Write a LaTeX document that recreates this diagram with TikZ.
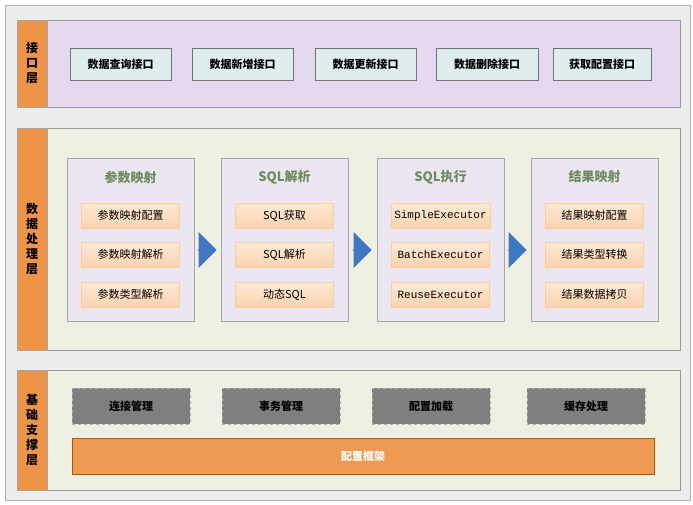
\documentclass[tikz,border=0pt]{standalone}
\usepackage{fontspec}
\setmainfont{Noto Sans CJK SC}
\newfontfamily\monof{Liberation Mono}
\usetikzlibrary{shapes.arrows}
\definecolor{bg}{HTML}{EDEDED}
\definecolor{lblor}{HTML}{EE9448}
\definecolor{purp}{HTML}{E4D9EE}
\definecolor{pale}{HTML}{EEF0E4}
\definecolor{grp}{HTML}{ECE6F3}
\definecolor{ifc}{HTML}{DFEDED}
\definecolor{itm}{HTML}{FBD3AE}
\definecolor{ttl}{HTML}{6E8C5E}
\definecolor{gbox}{HTML}{7F7F7F}
\definecolor{bar}{HTML}{EE9A52}
\definecolor{arr}{HTML}{3F78C0}
\tikzset{
 lbl/.style={fill=lblor,draw=gray!70},
 panel/.style={draw=gray!80,line width=0.8pt},
 ifbox/.style={fill=ifc,draw=gray!90!black,line width=0.8pt,font=\fontsize{11}{13}\selectfont\bfseries},
 grpbox/.style={fill=grp,draw=gray!70,line width=0.8pt},
 itbox/.style={draw=orange!40,top color=itm!50,bottom color=itm,font=\fontsize{11}{13}\selectfont},
 gtitle/.style={text=ttl,font=\fontsize{13}{15}\selectfont\bfseries},
 dbox/.style={fill=gbox,draw=gray!60,dashed,line width=0.8pt,font=\fontsize{11}{13}\selectfont\bfseries},
 ltxt/.style={align=center,font=\fontsize{12}{15}\selectfont\bfseries},
 flow/.style={single arrow,fill=arr,draw=none,minimum width=36pt,minimum height=19pt,single arrow head extend=8pt,single arrow tip angle=90,inner sep=0pt}
}
\begin{document}
\begin{tikzpicture}[x=1pt,y=-1pt]
\useasboundingbox (0,0) rectangle (693,505);
\fill[white] (0,0) rectangle (693,505);
\draw[fill=bg,draw=gray!60] (5,5) rectangle (690,500);
% layer 1
\draw[panel,fill=purp] (47,20) rectangle (680,107);
\draw[lbl] (17,20) rectangle (47,107);
\node[ltxt] (l1) at (32,63.5) {接\\口\\层};
\foreach \n/\a/\b/\t in {i1/70/171/数据查询接口,i2/192/293/数据新增接口,i3/315/416/数据更新接口,i4/436/538/数据删除接口,i5/553/651/获取配置接口}{
 \node[ifbox,minimum width={(\b-\a)*1pt},minimum height=32pt] (\n) at ({(\a+\b)/2},64) {\t};}
% layer 2
\draw[panel,fill=pale] (47,128) rectangle (680,350);
\draw[lbl] (17,128) rectangle (47,350);
\node[ltxt] (l2) at (32,239) {数\\据\\处\\理\\层};
\foreach \g/\a/\t in {g1/67/参数映射,g2/221/SQL解析,g3/377/SQL执行,g4/531/结果映射}{
 \node[grpbox,minimum width=127pt,minimum height=163pt] (\g) at ({\a+63.5},239.5) {};
 \node[gtitle] (\g t) at ({\a+63.5},177) {\t};}
\foreach \g/\a/\x/\y/\z in {g1/67/参数映射配置/参数映射解析/参数类型解析,g2/221/SQL获取/SQL解析/动态SQL,g3/377/{\monof SimpleExecutor}/{\monof BatchExecutor}/{\monof ReuseExecutor},g4/531/结果映射配置/结果类型转换/结果数据拷贝}{
 \node[itbox,minimum width=98pt,minimum height=25pt] (\g a) at ({\a+63.5},215.5) {\x};
 \node[itbox,minimum width=98pt,minimum height=25pt] (\g b) at ({\a+63.5},254.5) {\y};
 \node[itbox,minimum width=98pt,minimum height=25pt] (\g c) at ({\a+63.5},294.5) {\z};}
\node[flow] (a1) at (207,250) {};
\node[flow] (a2) at (362,250) {};
\node[flow] (a3) at (517,250) {};
% layer 3
\draw[panel,fill=pale] (47,370) rectangle (680,490);
\draw[lbl] (17,370) rectangle (47,490);
\node[ltxt] (l3) at (32,430) {基\\础\\支\\撑\\层};
\foreach \n/\a/\t in {d1/72/连接管理,d2/222/事务管理,d3/372/配置加载,d4/527/缓存处理}{
 \node[dbox,minimum width=118pt,minimum height=36pt] (\n) at ({\a+59},406) {\t};}
\node[fill=bar,draw=orange!70!black,minimum width=582pt,minimum height=36pt,text=white,font=\fontsize{11}{13}\selectfont\bfseries] (cf) at (363,456) {配置框架};
\end{tikzpicture}
\end{document}
